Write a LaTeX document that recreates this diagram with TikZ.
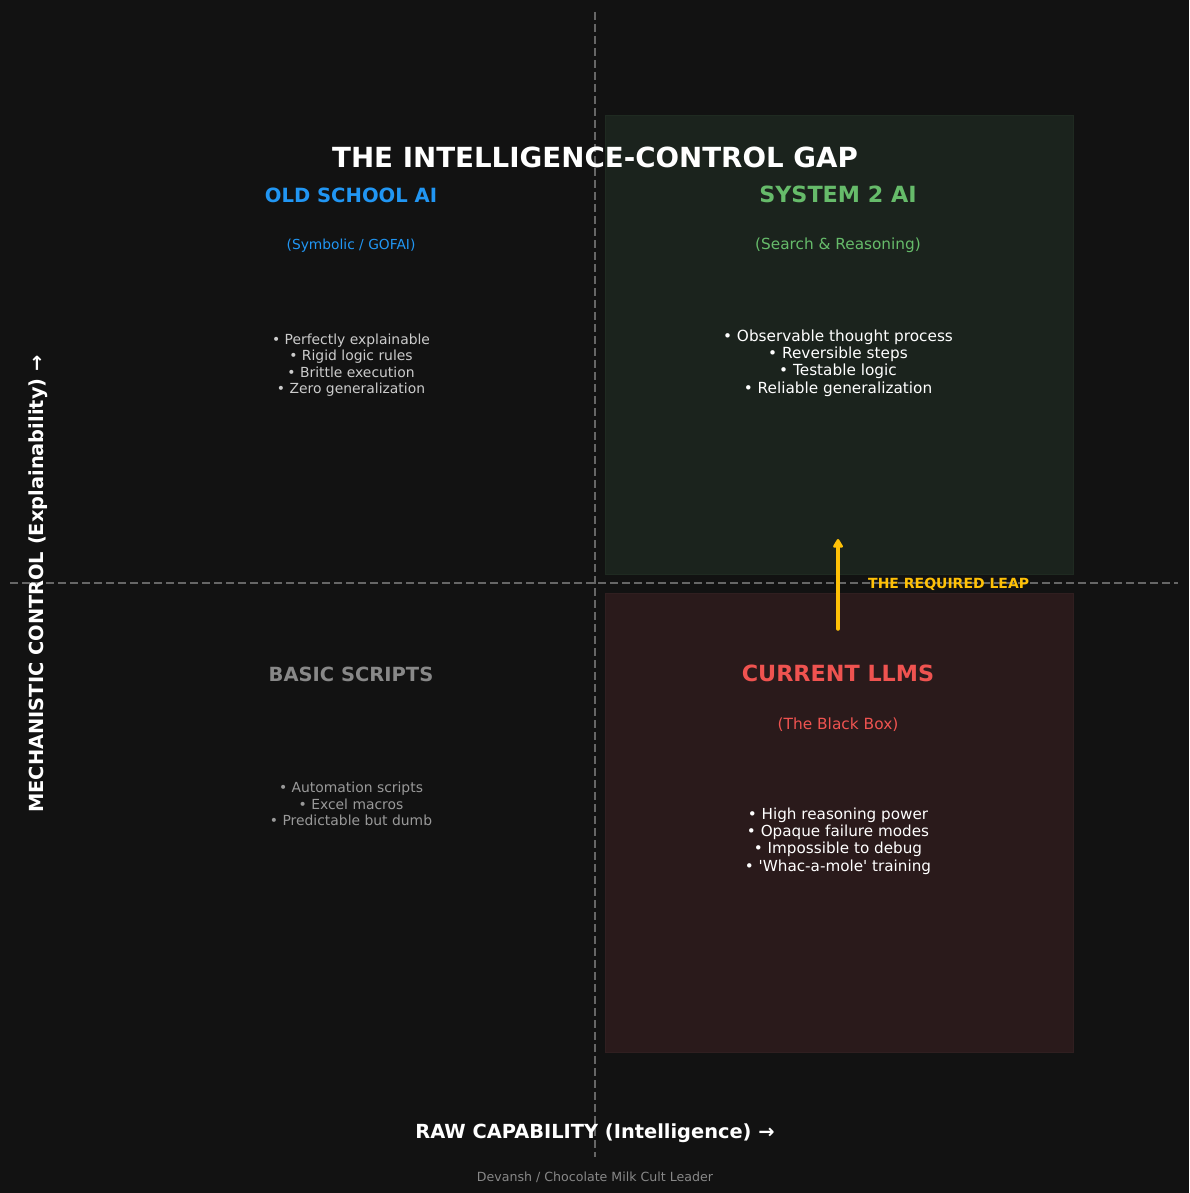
\documentclass[tikz,border=0pt]{standalone}
\usepackage{fontspec}
\setmainfont{DejaVu Sans}
\usetikzlibrary{arrows.meta}
\definecolor{bg}{HTML}{121212}
\definecolor{axisgray}{HTML}{666666}
\definecolor{greenfill}{HTML}{1B231D}
\definecolor{greenedge}{HTML}{1F2A21}
\definecolor{redfill}{HTML}{2A1A1B}
\definecolor{rededge}{HTML}{301F20}
\definecolor{oldblue}{HTML}{2196F3}
\definecolor{sysgreen}{HTML}{66BB6A}
\definecolor{llmred}{HTML}{EF5350}
\definecolor{leapgold}{HTML}{FFC107}
\definecolor{lightgray}{HTML}{CCCCCC}
\definecolor{midgray}{HTML}{888888}
\definecolor{bulletgray}{HTML}{999999}
\tikzset{
  axisline/.style={axisgray, line width=1.4pt, dash pattern=on 8pt off 4pt},
  quadtitle/.style={inner sep=0pt, anchor=center},
  quadsub/.style={inner sep=0pt, anchor=center},
  bullets/.style={align=center, inner sep=0pt, anchor=center},
}
\begin{document}
\begin{tikzpicture}[x=1pt,y=-1pt]
\fill[bg] (0,0) rectangle (1189,1193);
\useasboundingbox (0,0) rectangle (1189,1193);
% quadrant boxes
\draw[greenedge, fill=greenfill, line width=0.8pt] (605,115) rectangle (1073,574);
\draw[rededge, fill=redfill, line width=0.8pt] (605,593) rectangle (1073,1052);
% axes
\coordinate (vtop) at (595,12);
\coordinate (vbot) at (595,1157);
\coordinate (hl) at (10,583);
\coordinate (hr) at (1178,583);
\draw[axisline] (vtop) -- (vbot);
\draw[axisline] (hl) -- (hr);
% title
\node[font=\fontsize{27.7}{30}\selectfont\bfseries, text=white, inner sep=0pt] (title) at (595,157) {THE INTELLIGENCE-CONTROL GAP};
% top-left
\node[quadtitle, text=oldblue, font=\fontsize{19.6}{23}\selectfont\bfseries] (oldt) at (351,195) {OLD SCHOOL AI};
\node[quadsub, text=oldblue, font=\fontsize{13.8}{16}\selectfont] (olds) at (351,245.5) {(Symbolic / GOFAI)};
\node[bullets, text=lightgray, font=\fontsize{13.9}{16.4}\selectfont] (oldb) at (351,365) {• Perfectly explainable\\• Rigid logic rules\\• Brittle execution\\• Zero generalization};
% top-right
\node[quadtitle, text=sysgreen, font=\fontsize{22.3}{25}\selectfont\bfseries] (syst) at (838,194) {SYSTEM 2 AI};
\node[quadsub, text=sysgreen, font=\fontsize{15.3}{17}\selectfont] (syss) at (838,245.5) {(Search \& Reasoning)};
\node[bullets, text=white, font=\fontsize{15.3}{17.4}\selectfont] (sysb) at (838,363) {• Observable thought process\\• Reversible steps\\• Testable logic\\• Reliable generalization};
% bottom-left
\node[quadtitle, text=midgray, font=\fontsize{19.5}{23}\selectfont\bfseries] (bast) at (351,674) {BASIC SCRIPTS};
\node[bullets, text=bulletgray, font=\fontsize{13.9}{16.2}\selectfont] (basb) at (351,804) {• Automation scripts\\• Excel macros\\• Predictable but dumb};
% bottom-right
\node[quadtitle, text=llmred, font=\fontsize{22.3}{25}\selectfont\bfseries] (llmt) at (838,673) {CURRENT LLMS};
\node[quadsub, text=llmred, font=\fontsize{15.4}{17}\selectfont] (llms) at (838,724.5) {(The Black Box)};
\node[bullets, text=white, font=\fontsize{15.2}{17.4}\selectfont] (llmb) at (838,841) {• High reasoning power\\• Opaque failure modes\\• Impossible to debug\\• \textquotesingle Whac-a-mole\textquotesingle{} training};
% leap arrow
\coordinate (leapstart) at (838,629);
\coordinate (leapend) at (838,539);
\draw[leapgold, line width=3.5pt, line cap=round, -{Triangle[length=10pt,width=11pt,round]}] (leapstart) -- (leapend);
\node[font=\fontsize{14}{16}\selectfont\bfseries, text=leapgold, anchor=west, inner sep=0pt] (leap) at (868,584) {THE REQUIRED LEAP};
% axis labels
\node[font=\fontsize{19.4}{22}\selectfont\bfseries, text=white, rotate=90, inner sep=0pt] (ylab) at (38,584) {MECHANISTIC CONTROL (Explainability) →};
\node[font=\fontsize{19.4}{22}\selectfont\bfseries, text=white, inner sep=0pt] (xlab) at (595,1133) {RAW CAPABILITY (Intelligence) →};
\node[font=\fontsize{12.6}{14}\selectfont, text=midgray, inner sep=0pt] (foot) at (595,1177) {Devansh / Chocolate Milk Cult Leader};
\end{tikzpicture}
\end{document}
